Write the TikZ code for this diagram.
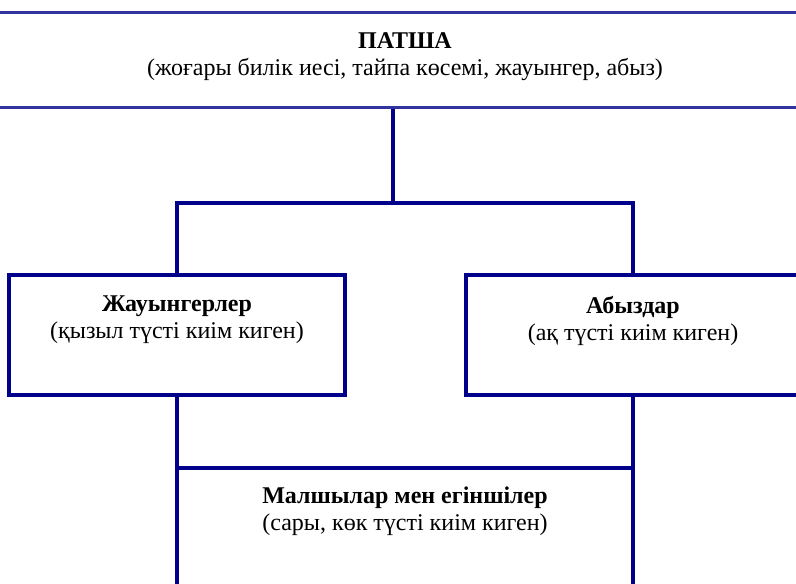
\documentclass[tikz,border=0pt]{standalone}
\usepackage{fontspec}
\setmainfont{Liberation Serif}
\usetikzlibrary{positioning}
\definecolor{boxblue}{RGB}{0,0,139}
\definecolor{topblue}{RGB}{51,51,160}
\tikzset{
	block/.style={rectangle, draw=boxblue, line width=4.5pt, inner sep=0pt},
	caption/.style={align=center, inner sep=0pt, font=\fontsize{24}{27}\selectfont},
	link/.style={draw=boxblue, line width=4.5pt},
}
\begin{document}
\begin{tikzpicture}[x=1pt, y=-1pt]
		\useasboundingbox (0,0) rectangle (796,584);
		\clip (0,0) rectangle (796,584);
		
		\node[block, draw=topblue, line width=3pt, minimum width=850pt, minimum height=95pt] (patsha) at (405,59.5) {};
		\node[caption, below=22pt of patsha.north] (patsha-text) {\textbf{ПАТША}\\(жоғары билік иесі, тайпа көсемі, жауынгер, абыз)};
		
		\node[block, minimum width=336pt, minimum height=120pt] (warriors) at (177,335) {};
		\node[caption, below=23pt of warriors.north] (warriors-text) {\textbf{Жауынгерлер}\\(қызыл түсті киім киген)};
		
		\node[block, minimum width=334pt, minimum height=120pt] (priests) at (633,335) {};
		\node[caption, below=23pt of priests.north] (priests-text) {\textbf{Абыздар}\\(ақ түсті киім киген)};
		
		\node[block, minimum width=456pt, minimum height=172pt] (herders) at (405,554) {};
		\node[caption, below=21pt of herders.north] (herders-text) {\textbf{Малшылар мен егіншілер}\\(сары, көк түсті киім киген)};
		
		%branch point under the top box
		\coordinate (fork) at (393,203);
		
		\draw[link] (patsha.south -| fork) -- (fork);
		\draw[link] (warriors.north) |- (fork) -| (priests.north);
		\draw[link] (warriors.south) -- (warriors.south |- herders.north);
		\draw[link] (priests.south) -- (priests.south |- herders.north);
	\end{tikzpicture}
\end{document}
